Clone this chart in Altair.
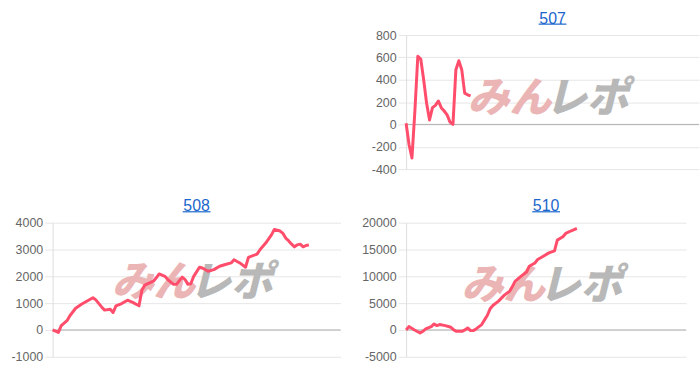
import altair as alt
import pandas as pd

# ---- data ----
X_507 = list(range(23))
Y_507 = [10, -180, -300, 120, 610, 585, 400, 190, 40, 150, 170, 210, 150, 120, 85, 20, 0, 490, 570, 490, 280, 265, 255]

X_508 = [0, 2, 3, 5, 6, 8, 10, 12, 14, 15, 17, 18, 20, 21, 22, 24, 26, 28, 29, 30, 31, 32, 35, 36, 37,
         39, 40, 42, 43, 45, 46, 47, 48, 49, 51, 52, 54, 56, 58, 60, 62, 63, 65, 67, 68, 71, 72, 74, 76,
         77, 79, 80, 81, 82, 83, 84, 85, 86, 87, 88, 89]
Y_508 = [0, -90, 160, 345, 530, 810, 960, 1080, 1200, 1120, 860, 740, 775, 650, 900, 985, 1110, 1020, 960,
         900, 1480, 1670, 1820, 1945, 2090, 2000, 1880, 1700, 1700, 1970, 1880, 1700, 1720, 2000, 2340,
         2310, 2190, 2250, 2375, 2440, 2500, 2620, 2500, 2340, 2710, 2830, 2990, 3240, 3545, 3750, 3690,
         3600, 3420, 3320, 3200, 3100, 3175, 3200, 3100, 3150, 3175]

X_510 = [0, 1, 2, 3, 5, 6, 7, 9, 10, 11, 12, 14, 16, 17, 18, 20, 21, 22, 23, 24, 25, 27, 28, 29, 30, 31,
         33, 35, 37, 38, 39, 41, 43, 44, 46, 47, 49, 51, 53, 54, 56, 57, 59, 61]
Y_510 = [0, 625, 310, 0, -560, -250, 190, 625, 1125, 810, 1000, 810, 500, 0, -250, -250, 0, 375, -125,
         -125, 190, 1000, 1875, 2690, 3940, 4560, 5375, 6440, 7250, 8125, 9125, 10000, 10810, 11875,
         12500, 13125, 13750, 14375, 14750, 16750, 17375, 18000, 18500, 18940]

TICKS_507 = [-400, -200, 0, 200, 400, 600, 800]
TICKS_508 = [-1000, 0, 1000, 2000, 3000, 4000]
TICKS_510 = [-5000, 0, 5000, 10000, 15000, 20000]

LINE = "#ff4d6b"
PINK = "#ebb5b5"
GREY = "#b8b8b8"
BLUE = "#1a66cc"
FONT = "Liberation Sans"


def panel(title, xs, ys, ticks, wm_y, extent, width):
    df = pd.DataFrame({"x": xs, "y": ys})
    one = pd.DataFrame({"a": [0]})
    xsc = alt.Scale(domain=[0, 100])
    ysc = alt.Scale(domain=[ticks[0], ticks[-1]], nice=False)
    yax = alt.Axis(values=ticks, title=None, labelExpr="'' + datum.value", grid=True,
                   minExtent=extent, maxExtent=extent)
    wm_args = dict(font="Noto Sans CJK JP", fontSize=42, fontWeight=900,
                   fontStyle="italic", baseline="middle")
    wm1 = alt.Chart(one).mark_text(text="みん", align="right", dx=3, color=PINK, **wm_args).encode(
        x=alt.XDatum(48.5, scale=xsc, axis=None), y=alt.YDatum(wm_y, scale=ysc, axis=yax))
    wm2 = alt.Chart(one).mark_text(text="レポ", align="left", dx=-3, color=GREY, **wm_args).encode(
        x=alt.XDatum(48.5, scale=xsc, axis=None), y=alt.YDatum(wm_y, scale=ysc, axis=yax))
    zero = alt.Chart(one).mark_rule(color="#b0b0b0", strokeWidth=1).encode(
        y=alt.YDatum(0, scale=ysc, axis=yax))
    underline = alt.Chart(one).mark_rule(color=BLUE, strokeWidth=1.2).encode(
        x=alt.value(width / 2 - 14), x2=alt.value(width / 2 + 14), y=alt.value(-11))
    line = alt.Chart(df).mark_line(color=LINE, strokeWidth=3, strokeJoin="round").encode(
        x=alt.X("x:Q", scale=xsc, axis=None),
        y=alt.Y("y:Q", scale=ysc, axis=yax),
    )
    return alt.layer(wm1, wm2, zero, line, underline).properties(
        width=width, height=135,
        title=alt.TitleParams(title),
    )


empty = alt.Chart(pd.DataFrame({"a": [0]})).mark_rule(opacity=0).encode(
    x=alt.value(0), x2=alt.value(1), y=alt.value(0)
).properties(width=290, height=135)

c507 = panel("507", X_507, Y_507, TICKS_507, 230, 42, 295)
c508 = panel("508", X_508, Y_508, TICKS_508, 1740, 53, 290)
c510 = panel("510", X_510, Y_510, TICKS_510, 8250, 55, 282)

chart = alt.concat(empty, c507, c508, c510, columns=2).properties(
    spacing=alt.RowColnumber(row=22, column=10),
    padding={"left": 0, "top": 9, "right": 0, "bottom": 0},
).configure_view(stroke=None).configure_title(
    font=FONT, fontSize=16, fontWeight="normal", color=BLUE, offset=-3, anchor="middle"
).configure_axisY(
    labelFont=FONT, labelFontSize=12.5, labelColor="#666666",
    gridColor="#e6e6e6", tickColor="#e6e6e6", tickSize=8, labelPadding=2,
    domainColor="#dddddd",
)

chart.save("out.html", embed_options={"renderer": "svg", "actions": False})
